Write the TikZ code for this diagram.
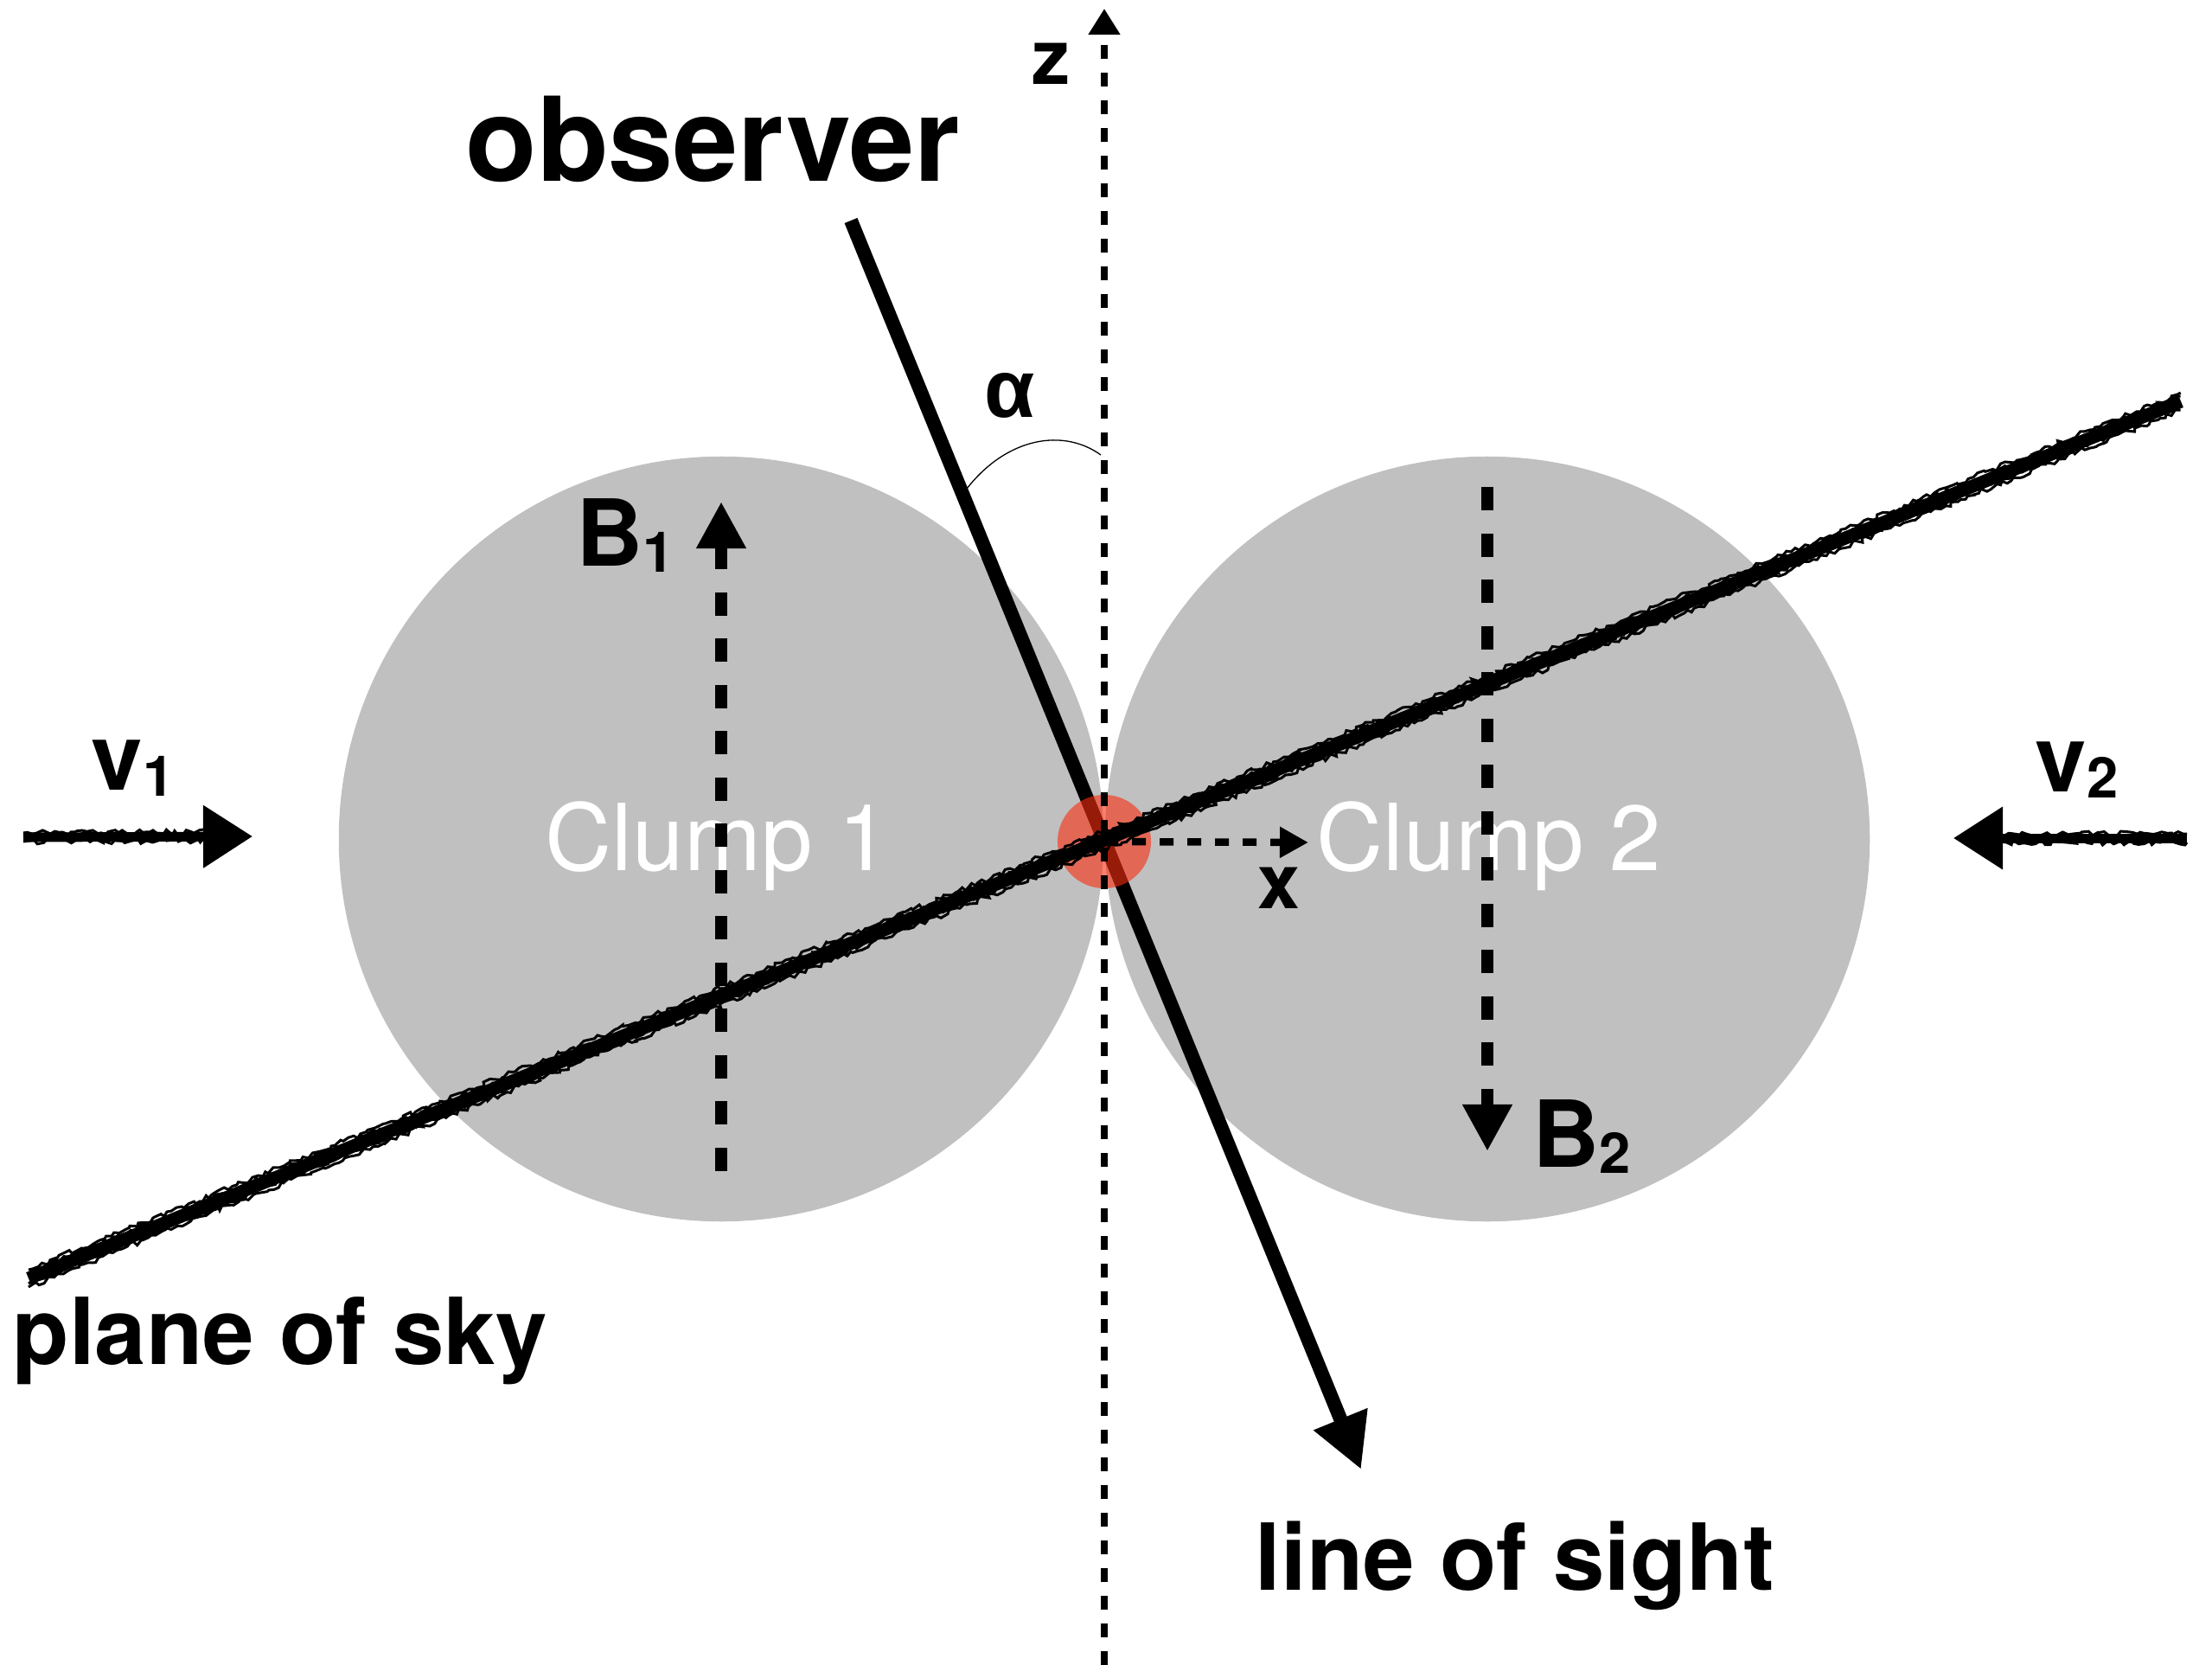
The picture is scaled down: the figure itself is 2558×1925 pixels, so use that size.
\documentclass[tikz,border=0pt]{standalone}
\usepackage{fontspec}
\setmainfont{TeX Gyre Heros}
\newfontfamily\alphafont{Liberation Sans}
\usetikzlibrary{arrows.meta,decorations.pathmorphing}
\definecolor{clumpgray}{RGB}{192,192,192}
\definecolor{hotspot}{RGB}{250,45,15}
\newcommand\lowsub[1]{\raisebox{-0.07cm}{\fontsize{18.5pt}{20pt}\selectfont #1}}
\tikzset{
  lbl/.style={inner sep=0pt, anchor=base west, font=\fontsize{30.4pt}{36pt}\selectfont\bfseries},
  axislbl/.style={inner sep=0pt, anchor=base west, font=\fontsize{25pt}{30pt}\selectfont\bfseries},
  clumptxt/.style={inner sep=0pt, anchor=base, text=white, font=\fontsize{30.4pt}{36pt}\selectfont},
  clump/.style={circle, fill=clumpgray, inner sep=0pt, minimum size=8.84cm},
  axisline/.style={line width=0.085cm, dash pattern=on 0.16cm off 0.16cm},
  fieldline/.style={line width=0.14cm, dash pattern=on 0.27cm off 0.265cm, -{Triangle[length=0.54cm,width=0.54cm]}},
  rough/.style={line width=0.03cm, decorate, decoration={random steps, segment length=0.05cm, amplitude=0.03cm}},
  velarrow/.style={line width=0.11cm, -{Triangle[length=0.57cm,width=0.7cm]}},
}
\begin{document}
\begin{tikzpicture}[x=0.01cm, y=-0.01cm]
\pgfmathsetseed{7}
\useasboundingbox (0,0) rectangle (2558,1925);

% clumps
\node[clump] (c1) at (834,970) {};
\node[clump] (c2) at (1720,970) {};
\node[clumptxt] (t1) at (830,1006) {Clump 1};
\node[clumptxt] (t2) at (1722,1006) {Clump 2};

% magnetic fields
\coordinate (b1s) at (834,1354);
\coordinate (b1e) at (834,580);
\coordinate (b2s) at (1720,563);
\coordinate (b2e) at (1720,1331);
\draw[fieldline] (b1s) -- (b1e);
\draw[fieldline] (b2s) -- (b2e);
\node[lbl] (lb1) at (666,654) {B\lowsub{1}};
\node[lbl] (lb2) at (1772,1349) {B\lowsub{2}};

% velocity arrows
\coordinate (v1s) at (27,968);
\coordinate (v1e) at (292,967);
\coordinate (v2s) at (2529,969);
\coordinate (v2e) at (2259,969);
\draw[velarrow] (v1s) -- (v1e);
\draw[velarrow] (v2s) -- (v2e);
\foreach \o in {-5,5}{
  \draw[rough] ([shift={(0,\o)}]v1s) -- ([shift={(0,\o)}]240,967);
  \draw[rough] ([shift={(0,\o)}]v2s) -- ([shift={(0,\o)}]2311,969);
}
\node[lbl] (lv1) at (105,913) {v\lowsub{1}};
\node[lbl] (lv2) at (2353,915) {v\lowsub{2}};

% line of sight
\coordinate (lostop) at (984,255);
\coordinate (lostip) at (1574,1699);
\draw[line width=0.16cm, -{Triangle[length=0.63cm,width=0.63cm]}] (lostop) -- (lostip);

% hot spot
\node[circle, fill=hotspot, fill opacity=0.6, inner sep=0pt, minimum size=1.08cm] (rc) at (1277,973) {};

% axes
\coordinate (zbot) at (1277,1925);
\coordinate (ztop) at (1277,10);
\coordinate (xtip) at (1513,974);
\draw[axisline, -{Triangle[length=0.30cm,width=0.35cm]}] (zbot) -- (ztop);
\draw[axisline, -{Triangle[length=0.33cm,width=0.34cm]}] (rc.center) -- (xtip);
\node[axislbl] (lz) at (1193,98) {z};
\node[axislbl] (lx) at (1454,1050) {x};

% plane of sky
\coordinate (ps1) at (33,1478);
\coordinate (ps2) at (2522,464);
\draw[line width=0.15cm] (ps1) -- (ps2);
\foreach \o in {-10,-6,6,10}{
  \draw[rough] ([shift={(0,\o)}]ps1) -- ([shift={(0,\o)}]ps2);
}

% angle
\coordinate (arcA) at (1118,565);
\coordinate (arcB) at (1273,526);
\draw[line width=0.013cm] (arcA) .. controls (1165,505) and (1230,495) .. (arcB);
\node[inner sep=0pt, font=\alphafont\fontsize{27pt}{30pt}\selectfont\bfseries] (la) at (1168,457) {α};

% titles
\node[lbl, font=\fontsize{38.4pt}{44pt}\selectfont\bfseries] (obs) at (538,210) {observer};
\node[lbl] (pos) at (14,1577) {plane of sky};
\node[lbl] (los) at (1451,1838) {line of sight};
\end{tikzpicture}
\end{document}
